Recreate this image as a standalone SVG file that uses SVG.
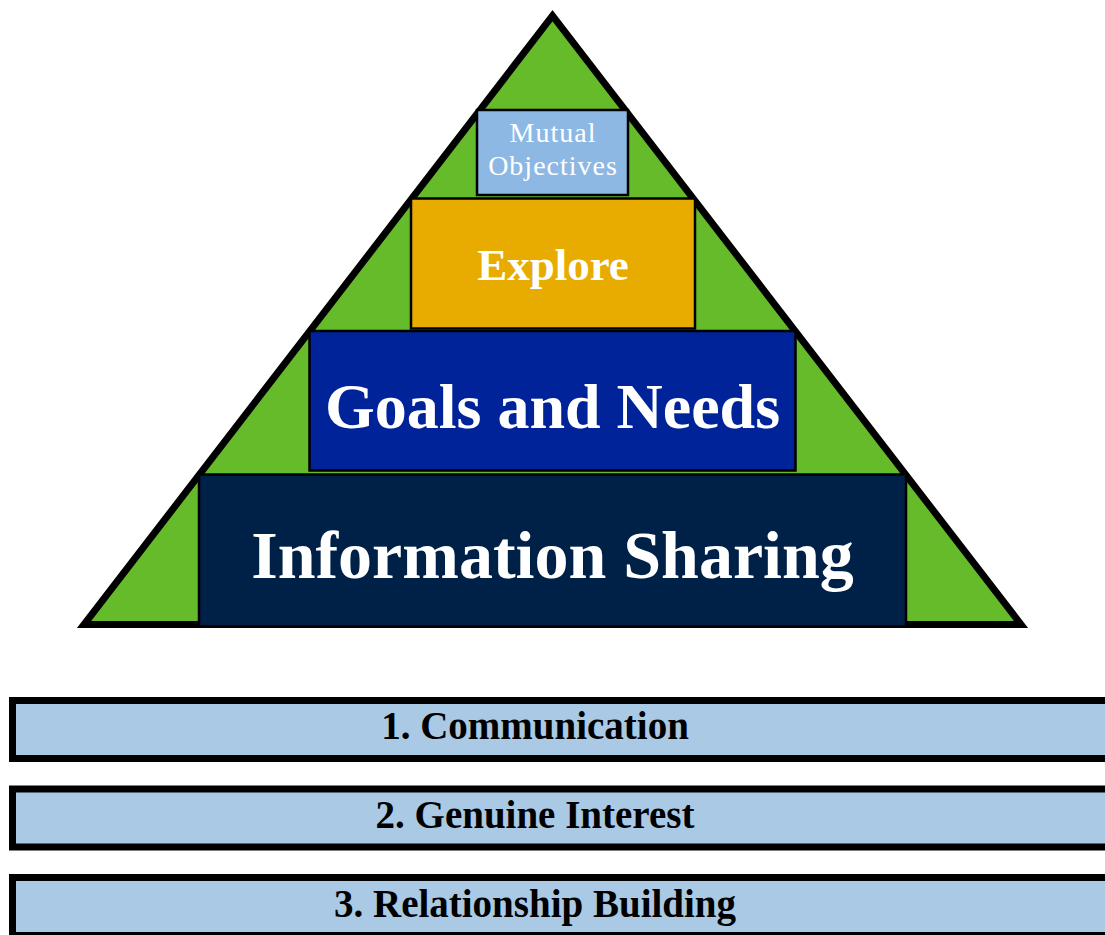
<svg xmlns="http://www.w3.org/2000/svg" width="1105" height="935" viewBox="0 0 1105 935">
<style>
.box{stroke:#000;stroke-width:2.5}
.wt{fill:#fff;font-family:"Liberation Serif",serif;font-weight:bold;text-anchor:middle}
.bar{fill:#a9c9e4;stroke:#000;stroke-width:7}
.bt{fill:#000;font-family:"Liberation Serif",serif;font-weight:bold;font-size:39px;text-anchor:middle}
</style>
<rect width="1105" height="935" fill="#fff"/>
<g id="pyramid">
<polygon points="84,624.5 1021,624.5 552.5,15.7" fill="#66bb2a" stroke="#000" stroke-width="7" stroke-linejoin="miter" stroke-miterlimit="10"/>
</g>
<g id="information-sharing">
<rect class="box" x="199" y="474.5" width="707" height="152" fill="#002147"/>
<text class="wt" x="552.5" y="578" font-size="68">Information Sharing</text>
</g>
<g id="goals-and-needs">
<rect class="box" x="309.5" y="331" width="486" height="139.5" fill="#00239a"/>
<text class="wt" x="552.5" y="428" font-size="64">Goals and Needs</text>
</g>
<g id="explore">
<rect class="box" x="411" y="198.5" width="284" height="130" fill="#e8ab00"/>
<text class="wt" x="553" y="280" font-size="45">Explore</text>
</g>
<g id="mutual-objectives">
<rect class="box" x="477" y="110" width="151" height="85" fill="#8db8e4"/>
<text class="wt" x="553" y="142" font-size="28" font-weight="normal" style="font-weight:normal;letter-spacing:1px">Mutual</text>
<text class="wt" x="553" y="175" font-size="28" style="font-weight:normal;letter-spacing:1px">Objectives</text>
</g>
<g id="connectors"></g>
<g id="communication">
<rect class="bar" x="12.5" y="700.5" width="1110" height="58"/>
<text class="bt" x="535" y="739">1. Communication</text>
</g>
<g id="genuine-interest">
<rect class="bar" x="12.5" y="789" width="1110" height="58"/>
<text class="bt" x="535" y="828">2. Genuine Interest</text>
</g>
<g id="relationship-building">
<rect class="bar" x="12.5" y="877.5" width="1110" height="58"/>
<text class="bt" x="535" y="917">3. Relationship Building</text>
</g>
</svg>
